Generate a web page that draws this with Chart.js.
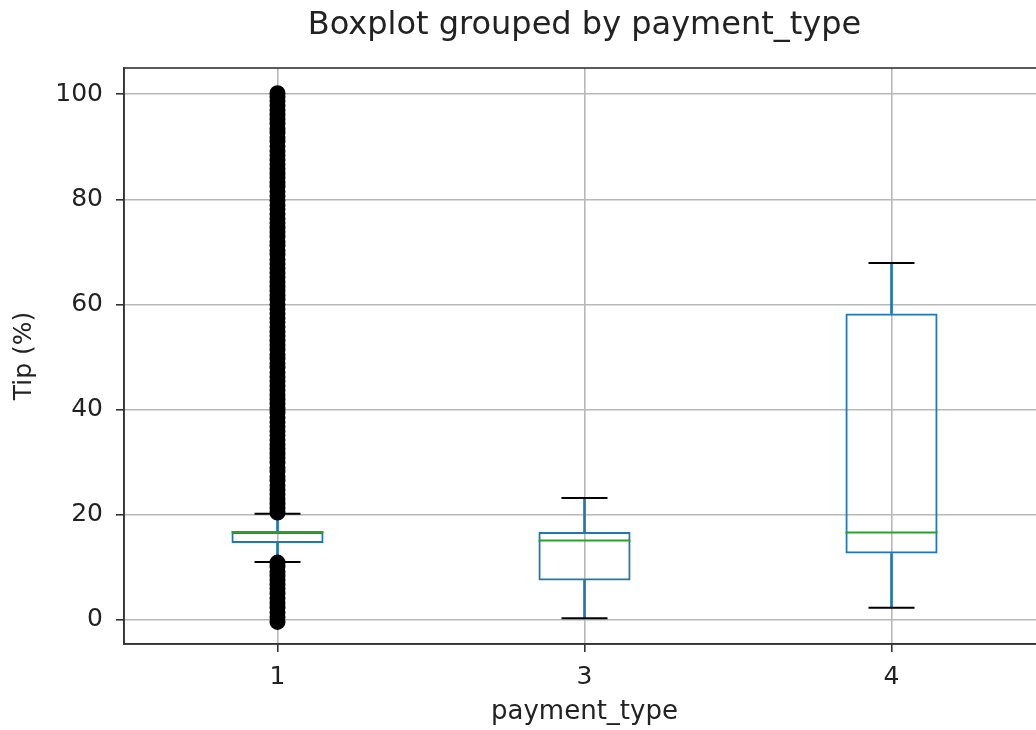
<!DOCTYPE html>
<html>
<head>
<meta charset="utf-8">
<script src="https://cdn.jsdelivr.net/npm/chart.js@4"></script>
<style>
  html, body { margin:0; padding:0; background:#fff; overflow:hidden; }
  #wrap { width:1060px; height:730px; }
</style>
</head>
<body>
<div id="wrap"><canvas id="box" width="1060" height="730"></canvas></div>
<script>
// tip percentage by payment type
const categories = ['1', '3', '4'];
const whiskerLow = [11.0, 0.3, 2.3];
const q1 = [14.6, 7.5, 12.6];
const median = [16.7, 15.1, 16.6];
const q3 = [16.7, 16.7, 58.3];
const whiskerHigh = [20.2, 23.2, 67.9];
const yTicks = [0, 20, 40, 60, 80, 100];

// outliers of payment type 1 (the others have none)
const fliersLow = [-0.4, 0.5, 1.4, 2.3, 3.2, 4.1, 5.0, 5.9, 6.7, 7.6, 8.4, 9.2, 10.1, 10.9];
const fliersHigh = [
  20.4, 21.3, 22.1, 23.0, 23.9, 24.7, 25.6, 26.5, 27.3, 28.2, 29.0, 29.9,
  30.8, 31.6, 32.5, 33.3, 34.2, 35.1, 35.9, 36.8, 37.6, 38.5, 39.4, 40.2,
  41.1, 41.9, 42.8, 43.7, 44.5, 45.4, 46.2, 47.1, 48.0, 48.8, 49.7, 50.5,
  51.4, 52.3, 53.1, 54.0, 54.8, 55.7, 56.6, 57.4, 58.3, 59.1, 60.0, 60.9,
  61.7, 62.6, 63.4, 64.3, 65.2, 66.0, 66.9, 67.7, 68.6, 69.5, 70.3, 71.2,
  72.0, 72.9, 73.8, 74.6, 75.5, 76.3, 77.2, 78.1, 78.9, 79.8, 80.6, 81.5,
  82.4, 83.2, 84.1, 84.9, 85.8, 86.7, 87.5, 88.4, 89.2, 90.1, 91.0, 91.8,
  92.7, 93.5, 94.4, 95.3, 96.1, 97.0, 97.8, 98.7, 99.5, 100.2
];

const BLUE = '#1f77b4', GREEN = '#2ca02c', FONT = 'DejaVu Sans';

const fliers = [...fliersLow, ...fliersHigh].map(v => ({x: categories[0], y: v}));

// top and right spines
const frame = {
  id: 'frame',
  afterDraw(chart){
    const {ctx, chartArea: a} = chart;
    ctx.save();
    ctx.strokeStyle = '#333';
    ctx.lineWidth = 1.6;
    ctx.strokeRect(a.left, a.top, a.right - a.left, a.bottom - a.top);
    ctx.restore();
  }
};

new Chart(document.getElementById('box'), {
  type: 'bar',
  data: {
    labels: categories,
    datasets: [
      {type:'line', data:fliers, showLine:false, pointRadius:7, borderWidth:2,
       backgroundColor:'#000', borderColor:'#000'},
      {type:'line', data:whiskerHigh, showLine:false, pointStyle:'line', pointRadius:23,
       borderColor:'#000', borderWidth:2},
      {type:'line', data:whiskerLow, showLine:false, pointStyle:'line', pointRadius:23,
       borderColor:'#000', borderWidth:2},
      {type:'line', data:median, showLine:false, pointStyle:'line', pointRadius:46,
       borderColor:GREEN, borderWidth:2},
      {data:categories.map((c,i)=>[q1[i], q3[i]]), backgroundColor:'rgba(0,0,0,0)',
       borderColor:BLUE, borderWidth:2, borderSkipped:false, grouped:false,
       barPercentage:0.3, categoryPercentage:1},
      {data:categories.map((c,i)=>[q3[i], whiskerHigh[i]]), backgroundColor:BLUE,
       barThickness:2, grouped:false},
      {data:categories.map((c,i)=>[whiskerLow[i], q1[i]]), backgroundColor:BLUE,
       barThickness:2, grouped:false}
    ]
  },
  options: {
    responsive:false,
    animation:false,
    events:[],
    layout:{autoPadding:false, padding:{left:0, right:15, top:0, bottom:0}},
    plugins:{
      legend:{display:false},
      tooltip:{enabled:false},
      title:{display:true, fullSize:false, text:'Boxplot grouped by payment_type', color:'#222',
             font:{family:FONT, size:32, weight:'normal'}, padding:{top:6, bottom:23.6}}
    },
    scales:{
      x:{
        offset:true,
        grid:{offset:false, color:'#b8b8b8', lineWidth:1.6, tickLength:8, tickColor:'#333'},
        border:{color:'#333', width:1.6},
        ticks:{color:'#222', padding:10, font:{family:FONT, size:25}},
        title:{display:true, text:'payment_type', color:'#222',
               font:{family:FONT, size:26}, padding:{top:0, bottom:2}},
        afterFit(s){ s.height = 86; }
      },
      y:{
        min:-4.6, max:105,
        afterBuildTicks(s){ s.ticks = yTicks.map(v => ({value:v})); },
        grid:{color:'#b8b8b8', lineWidth:1.6, tickLength:8, tickColor:'#333'},
        border:{color:'#333', width:1.6},
        ticks:{color:'#222', padding:13, font:{family:FONT, size:25}},
        title:{display:true, text:'Tip (%)', color:'#222',
               font:{family:FONT, size:25}, padding:{top:9, bottom:0}},
        afterFit(s){ s.width = 124; }
      }
    }
  },
  plugins:[frame]
});
</script>
</body>
</html>
